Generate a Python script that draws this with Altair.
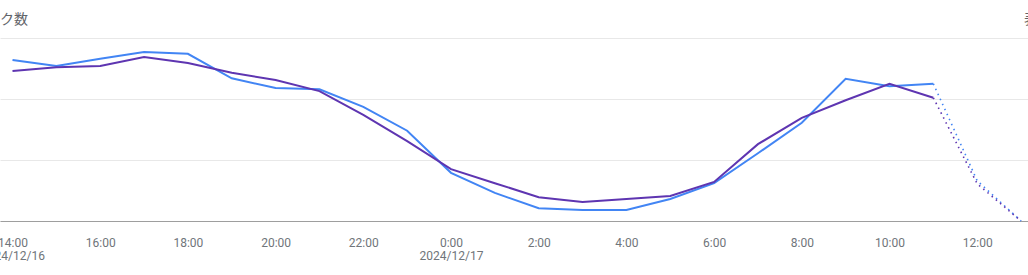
import altair as alt
import pandas as pd

# hour offsets: 0 = 2024/12/16 14:00 ... 23 = 2024/12/17 13:00
hours = list(range(24))
clicks = [264, 254, 266, 277, 274, 234, 218, 216, 187, 148, 79, 46, 21, 18, 18, 36,
          62, 111, 161, 233, 221, 225, 66, 0]
impressions = [246, 252, 254, 269, 259, 243, 231, 213, 174, 131, 85, 62, 39, 31, 36, 41,
               64, 126, 169, 198, 225, 202, 61, 0]
series_names = ["クリック数", "表示回数"]
series_colors = ["#4285f4", "#5e35b1"]
tick_values = [0, 2, 4, 6, 8, 10, 12, 14, 16, 18, 20, 22]
tick_labels = ["14:00", "16:00", "18:00", "20:00", "22:00", "0:00",
               "2:00", "4:00", "6:00", "8:00", "10:00", "12:00"]
date_labels = {0: "2024/12/16", 10: "2024/12/17"}
last_solid = 21

rows = []
for name, vals in zip(series_names, [clicks, impressions]):
    for h, v in zip(hours, vals):
        if h <= last_solid:
            rows.append({"h": h, "v": v, "s": name, "part": "solid"})
        if h >= last_solid:
            rows.append({"h": h, "v": v, "s": name, "part": "dotted"})
df = pd.DataFrame(rows)

# label expression built from the lists
parts = []
for tv, tl in zip(tick_values, tick_labels):
    if tv in date_labels:
        parts.append(f"datum.value == {tv} ? ['{tl}', '{date_labels[tv]}']")
    else:
        parts.append(f"datum.value == {tv} ? '{tl}'")
label_expr = " : ".join(parts) + " : ''"

px_per_h = 43.85
x0 = 12.5
xdom = [-x0 / px_per_h, (1028 - x0) / px_per_h]

xenc = alt.X("h:Q", scale=alt.Scale(domain=xdom, nice=False, zero=False),
             axis=alt.Axis(values=tick_values, labelExpr=label_expr, title=None,
                           grid=False, ticks=False, domainColor="#9e9e9e",
                           labelColor="#70757a", labelFont="Roboto", labelFontSize=12,
                           labelPadding=16, labelLineHeight=13, labelFlush=False,
                           labelOverlap=False, labelBound=False))
yenc = alt.Y("v:Q", scale=alt.Scale(domain=[0, 300], nice=False),
             axis=alt.Axis(values=[0, 100, 200, 300], labels=False, ticks=False,
                           domain=False, title=None, gridColor="#e8e8e8"))
cenc = alt.Color("s:N", scale=alt.Scale(domain=series_names, range=series_colors), legend=None)

base = alt.Chart(df)
solid = base.transform_filter(alt.datum.part == "solid").mark_line(strokeWidth=2).encode(
    x=xenc, y=yenc, color=cenc, detail="s:N")
dotted = base.transform_filter(alt.datum.part == "dotted").mark_line(
    strokeWidth=1.6, strokeDash=[1.5, 4]).encode(x=xenc, y=yenc, color=cenc, detail="s:N")

title_left = alt.Chart(pd.DataFrame({"t": [series_names[0]]})).mark_text(
    align="right", baseline="middle", x=28, y=-18, fontSize=14,
    font="Noto Sans CJK JP", color="#5f6368").encode(text="t:N")
title_right = alt.Chart(pd.DataFrame({"t": [series_names[1]]})).mark_text(
    align="left", baseline="middle", x=1024, y=-18, fontSize=14,
    font="Noto Sans CJK JP", color="#5f6368").encode(text="t:N")

chart = alt.layer(solid, dotted, title_left, title_right).properties(
    width=1028, height=183,
    autosize=alt.AutoSizeParams(type="none"),
    padding={"left": 0, "top": 38, "right": 0, "bottom": 54},
).configure_view(stroke=None)

chart.save("out.html", embed_options={"renderer": "svg", "actions": False})
